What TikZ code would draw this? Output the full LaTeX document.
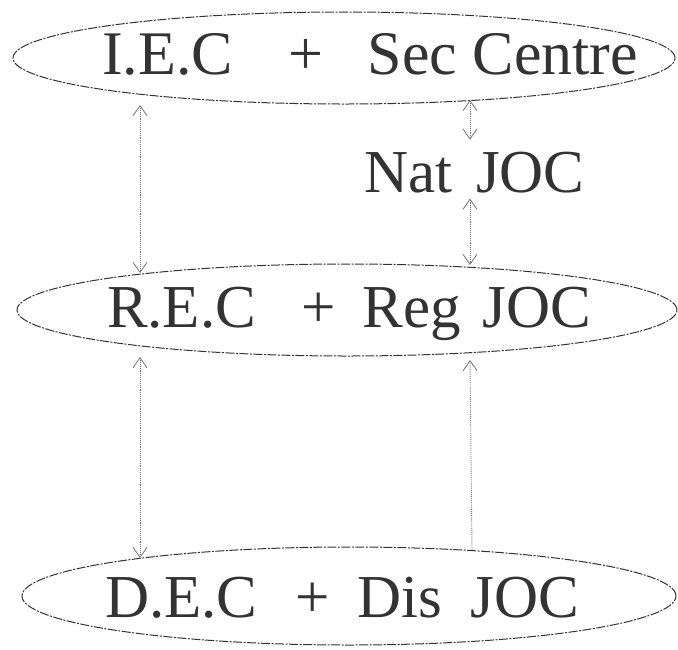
\documentclass[tikz,border=0pt]{standalone}
\usepackage{fontspec}
\setmainfont{Liberation Serif}
\usetikzlibrary{arrows.meta,shapes.geometric,calc}
\begin{document}
\begin{tikzpicture}[x=1pt,y=-1pt,
  oval/.style={ellipse, draw=black!80, line width=1pt, inner sep=0pt, outer sep=0pt,
    dash pattern=on 9pt off 1.5pt on 2pt off 1.5pt},
  lbl/.style={anchor=base west, inner sep=0pt, outer sep=0pt, text=black!80,
    font=\fontsize{61}{64}\selectfont},
  link/.style={draw=black!55, line width=0.9pt, densely dotted},
  twohead/.style={{Straight Barb[length=10pt,width=14pt,line width=0.8pt]}-{Straight Barb[length=10pt,width=14pt,line width=0.8pt]}},
  onehead/.style={-{Straight Barb[length=10pt,width=14pt,line width=0.8pt]}}
]
\useasboundingbox (0,0) rectangle (678,649);

% ellipses
\node[oval, minimum width=662pt, minimum height=92pt] (e1) at (344,58) {};
\node[oval, minimum width=660pt, minimum height=92pt] (e2) at (347,310) {};
\node[oval, minimum width=654pt, minimum height=98pt] (e3) at (349,596) {};

% texts
\node[lbl, font=\fontsize{62}{64}\selectfont] (t1) at (102,74) {I.E.C\hspace{56pt}+\hspace{44pt}Sec Centre};
\node[lbl] (t2) at (107,327) {R.E.C\hspace{45pt}+\hspace{27pt}Reg\hspace{22pt}JOC};
\node[lbl] (t3) at (105,617) {D.E.C\hspace{38pt}+\hspace{28pt}Dis\hspace{28pt}JOC};
\node[lbl] (nat) at (364,192) {Nat\hspace{24pt}JOC};

% connector end points on the ellipse borders
\coordinate (a1) at ($(e1)+(-204,47)$);
\coordinate (a2) at ($(e2)+(-207,-37)$);
\coordinate (b1) at ($(e1)+(126,42)$);
\coordinate (b2) at ($(e2)+(123,-45)$);
\coordinate (c1) at ($(e2)+(-207,47)$);
\coordinate (c2) at ($(e3)+(-209,-38)$);
\coordinate (d1) at ($(e3)+(123,-46)$);
\coordinate (d2) at ($(e2)+(123,50)$);

% connectors
\draw[link, twohead] (a1) -- (a2);
\draw[link, twohead, shorten >=12pt] (b1) -- (b1 |- nat.north);
\draw[link, twohead, shorten <=6pt] (nat.south -| b2) -- (b2);
\draw[link, twohead] (c1) -- (c2);
\draw[link, onehead] (d1) -- (d2);
\end{tikzpicture}
\end{document}
